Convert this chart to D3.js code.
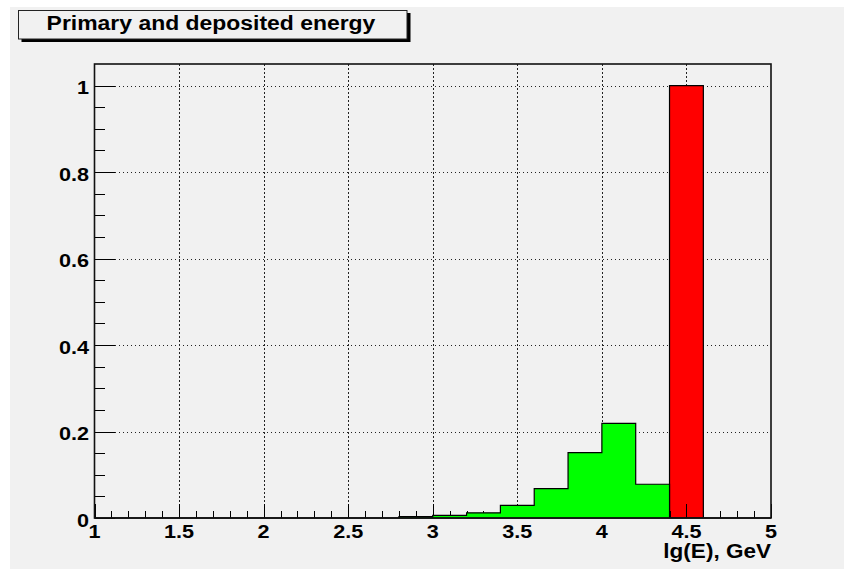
<!DOCTYPE html>
<html>
<head>
<meta charset="utf-8">
<script src="https://cdn.jsdelivr.net/npm/d3@7"></script>
<style>
  html, body { margin: 0; padding: 0; background: #ffffff; }
  svg { display: block; }
  text { font-family: "Liberation Sans", Arial, Helvetica, sans-serif; font-weight: bold; fill: #000; }
</style>
</head>
<body>
<svg id="chart" width="844" height="569"></svg>
<script>
// Histogram bin edges (lg(E), GeV): 20 bins of width 0.2 from 1 to 5
const binEdges = [1.0, 1.2, 1.4, 1.6, 1.8, 2.0, 2.2, 2.4, 2.6, 2.8, 3.0,
                  3.2, 3.4, 3.6, 3.8, 4.0, 4.2, 4.4, 4.6, 4.8, 5.0];
// Deposited energy distribution (green)
const depositedValues = [0, 0, 0, 0, 0, 0, 0, 0, 0, 0.003, 0.006,
                         0.012, 0.029, 0.068, 0.151, 0.219, 0.078, 0, 0, 0];
// Primary energy distribution (red)
const primaryValues = [0, 0, 0, 0, 0, 0, 0, 0, 0, 0, 0,
                       0, 0, 0, 0, 0, 0, 1.0, 0, 0];
const xTicks = [1, 1.5, 2, 2.5, 3, 3.5, 4, 4.5, 5];
const yTicks = [0, 0.2, 0.4, 0.6, 0.8, 1];
const titleText = "Primary and deposited energy";
const xTitle = "lg(E), GeV";

const svg = d3.select("#chart");

// canvas background
svg.append("rect").attr("x", 10).attr("y", 7).attr("width", 834).attr("height", 562)
  .attr("fill", "#f1f1f1");

const L = 94.5, R = 771, T = 64, B = 518;
const x = d3.scaleLinear().domain([1, 5]).range([L, R]);
const y = d3.scaleLinear().domain([0, 1.05]).range([B, T]);

// text helper: wide bold glyphs (horizontal stretch)
function label(g, px, py, str, size, sx, anchor) {
  return g.append("text")
    .attr("transform", `translate(${px},${py}) scale(${sx},1)`)
    .attr("text-anchor", anchor).attr("font-size", size).text(str);
}

// grid (dotted) at major ticks
const grid = svg.append("g").attr("stroke", "#222").attr("stroke-width", 1)
  .attr("stroke-dasharray", "1.5,2.5").attr("shape-rendering", "crispEdges");
xTicks.slice(1, -1).forEach(v => {
  grid.append("line").attr("x1", Math.round(x(v)) + 0.5).attr("x2", Math.round(x(v)) + 0.5)
    .attr("y1", T).attr("y2", B);
});
yTicks.slice(1).forEach(v => {
  grid.append("line").attr("x1", L).attr("x2", R)
    .attr("y1", Math.round(y(v)) + 0.5).attr("y2", Math.round(y(v)) + 0.5);
});

// build step outline path for a histogram
function histPath(values) {
  const p = d3.path();
  p.moveTo(x(binEdges[0]), y(0));
  values.forEach((v, i) => {
    p.lineTo(x(binEdges[i]), y(v));
    p.lineTo(x(binEdges[i + 1]), y(v));
  });
  p.lineTo(x(binEdges[binEdges.length - 1]), y(0));
  p.closePath();
  return p.toString();
}

// primary energy histogram (red)
svg.append("path").attr("d", histPath(primaryValues))
  .attr("fill", "#ff0000").attr("stroke", "#000").attr("stroke-width", 1.2);

// axes with inward ticks
const axes = svg.append("g").attr("stroke", "#000").attr("shape-rendering", "crispEdges");
// x ticks: major every 0.5, minor every 0.1
d3.range(0, 41).forEach(i => {
  const v = 1 + i * 0.1;
  const major = i % 5 === 0;
  axes.append("line").attr("x1", Math.round(x(v)) + 0.5).attr("x2", Math.round(x(v)) + 0.5)
    .attr("y1", B).attr("y2", B - (major ? 14 : 7)).attr("stroke-width", 1.2);
});
// y ticks: major every 0.2, minor every 0.05
d3.range(0, 21).forEach(i => {
  const v = i * 0.05;
  const major = i % 4 === 0;
  axes.append("line").attr("x1", L).attr("x2", L + (major ? 20 : 10))
    .attr("y1", Math.round(y(v)) + 0.5).attr("y2", Math.round(y(v)) + 0.5).attr("stroke-width", 1.2);
});

// deposited energy histogram (green)
svg.append("path").attr("d", histPath(depositedValues))
  .attr("fill", "#00ff00").attr("stroke", "#000").attr("stroke-width", 1.2);

// frame
svg.append("rect").attr("x", L).attr("y", T).attr("width", R - L).attr("height", B - T)
  .attr("fill", "none").attr("stroke", "#111").attr("stroke-width", 1.6);

// tick labels
const labels = svg.append("g");
xTicks.forEach(d => label(labels, x(d), 538, d, 18.5, 1.17, "middle"));
yTicks.forEach(d => label(labels, 89, y(d) + 8.5, d, 18.5, 1.17, "end"));

// axis title
label(svg, R, 558, xTitle, 20.5, 1.1, "end");

// title box with shadow
svg.append("rect").attr("x", 21.5).attr("y", 13).attr("width", 389).attr("height", 29).attr("fill", "#000");
svg.append("rect").attr("x", 18.5).attr("y", 10.5).attr("width", 388.5).attr("height", 28.5)
  .attr("fill", "#f1f1f1").attr("stroke", "#222").attr("stroke-width", 1);
label(svg, 211, 30, titleText, 19.6, 1.17, "middle");
</script>
</body>
</html>
